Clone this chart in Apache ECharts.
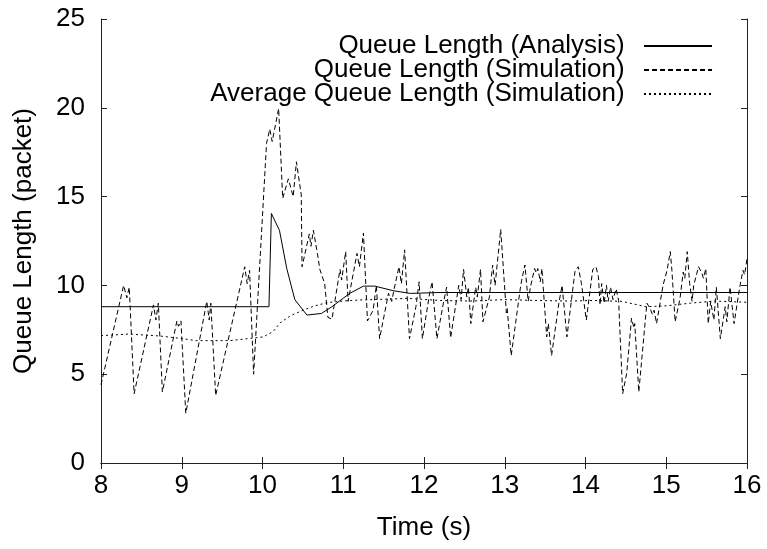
<!DOCTYPE html>
<html>
<head>
<meta charset="utf-8">
<script src="https://cdn.jsdelivr.net/npm/echarts@6/dist/echarts.min.js"></script>
<style>
  html, body { margin: 0; padding: 0; background: #fff; }
  #chart { width: 767px; height: 549px; }
</style>
</head>
<body>
<div id="chart"></div>
<script>
// Time axis ticks (s) and queue axis ticks (packets)
const xTicks = [8, 9, 10, 11, 12, 13, 14, 15, 16];
const yTicks = [0, 5, 10, 15, 20, 25];

// Analytical queue length
const anaTime = [8.00, 10.08, 10.11, 10.21, 10.30, 10.40, 10.55, 10.73, 10.86, 11.08, 11.25, 11.39, 11.62, 11.83, 12.20, 16.00];
const anaQueue = [8.8, 8.8, 14.05, 13.1, 10.96, 9.2, 8.33, 8.42, 8.8, 9.55, 9.96, 9.96, 9.7, 9.55, 9.6, 9.6];

// Simulated instantaneous queue length
const simTime = [
  8.00, 8.28, 8.32, 8.35, 8.41, 8.65, 8.68, 8.71, 8.76, 8.94, 8.96, 8.99, 9.05,
  9.31, 9.34, 9.36, 9.42, 9.78, 9.81, 9.84, 9.89, 10.05, 10.09, 10.12, 10.20,
  10.25, 10.32, 10.38, 10.42, 10.48, 10.49, 10.58, 10.60, 10.63, 10.68, 10.71,
  10.77, 10.81, 10.86, 10.96, 10.98, 11.03, 11.06, 11.17, 11.20, 11.25, 11.30,
  11.37, 11.41, 11.45, 11.56, 11.60, 11.63, 11.69, 11.72, 11.76, 11.82, 11.90,
  11.94, 11.98, 12.07, 12.10, 12.16, 12.24, 12.28, 12.33, 12.43, 12.46, 12.49,
  12.53, 12.55, 12.58, 12.64, 12.66, 12.70, 12.73, 12.81, 12.85, 12.88, 12.95,
  13.02, 13.03, 13.08, 13.19, 13.21, 13.25, 13.29, 13.32, 13.37, 13.39, 13.41,
  13.44, 13.46, 13.52, 13.54, 13.58, 13.67, 13.71, 13.77, 13.87, 13.91, 13.95,
  14.01, 14.09, 14.13, 14.16, 14.18, 14.20, 14.23, 14.26, 14.28, 14.31, 14.34,
  14.38, 14.41, 14.46, 14.51, 14.57, 14.60, 14.61, 14.66, 14.76, 14.80, 14.83,
  14.85, 14.88, 14.96, 15.01, 15.05, 15.07, 15.11, 15.17, 15.21, 15.23, 15.26,
  15.29, 15.32, 15.34, 15.40, 15.44, 15.46, 15.49, 15.52, 15.55, 15.59, 15.62,
  15.67, 15.73, 15.75, 15.79, 15.81, 15.84, 15.91, 15.95, 15.97, 16.00
];
const simQueue = [
  4.4, 10.0, 9.3, 9.9, 3.9, 8.9, 8.05, 9.0, 4.0, 8.0, 7.7, 8.0, 2.8,
  9.1, 8.05, 9.0, 3.8, 11.05, 10.1, 10.85, 5.0, 18.0, 18.8, 18.1, 19.96,
  14.9, 16.0, 15.0, 16.96, 15.1, 11.05, 12.9, 12.2, 13.1, 11.8, 10.9,
  10.1, 8.2, 8.1, 10.9, 10.3, 11.9, 9.1, 11.8, 11.05, 12.95, 8.0,
  8.6, 10.0, 7.0, 9.55, 9.1, 9.8, 11.05, 10.1, 12.0, 7.0, 8.8,
  10.2, 7.0, 9.55, 10.2, 7.0, 9.0, 9.9, 7.05, 10.0, 9.2, 10.9,
  9.35, 9.9, 7.85, 9.9, 9.35, 10.9, 7.95, 9.35, 11.15, 10.0, 13.15,
  8.45, 8.7, 6.05, 9.75, 10.3, 11.15, 9.1, 9.95, 10.95, 10.7, 10.95,
  10.2, 10.95, 7.1, 7.85, 6.05, 9.0, 10.0, 7.1, 10.8, 11.05, 10.1,
  8.05, 10.9, 11.05, 10.5, 8.9, 10.1, 9.0, 10.0, 9.1, 9.9, 9.2,
  9.8, 9.15, 3.9, 5.05, 8.15, 7.6, 7.85, 4.0, 9.0, 8.7, 8.35,
  8.6, 7.85, 10.0, 10.85, 11.9, 10.85, 7.95, 9.25, 10.75, 10.4, 11.9,
  10.1, 9.1, 10.0, 11.05, 10.7, 10.4, 10.95, 7.85, 9.1, 8.05, 9.9,
  7.0, 8.8, 7.95, 9.9, 10.0, 7.85, 9.9, 10.85, 10.6, 11.5
];

// Simulated average queue length
const avgTime = [8.00, 8.35, 8.73, 8.98, 9.18, 9.60, 10.01, 10.13, 10.22, 10.35, 10.50, 10.65, 10.80, 11.00, 11.20, 11.50, 11.80, 12.20, 12.60, 13.00, 13.40, 13.80, 14.10, 14.45, 14.75, 15.00, 15.30, 15.60, 16.00];
const avgQueue = [7.17, 7.26, 7.15, 7.02, 6.89, 6.89, 7.1, 7.4, 7.9, 8.3, 8.6, 8.85, 9.03, 9.12, 9.18, 9.22, 9.27, 9.15, 9.12, 9.2, 9.15, 9.12, 9.15, 9.1, 8.8, 8.85, 9.0, 9.12, 9.05];

const seriesNames = [
  'Queue Length (Analysis)',
  'Queue Length (Simulation)',
  'Average Queue Length (Simulation)'
];

const pairs = (xs, ys) => xs.map((x, i) => [x, ys[i]]);

const FONT = 'Liberation Sans, Arial, Helvetica, sans-serif';
const FONT_SIZE = 26;
const FRAME = '#222';

const chart = echarts.init(document.getElementById('chart'), null, { renderer: 'canvas' });

const baseAxis = {
  axisLine: { show: true, lineStyle: { color: FRAME, width: 1 } },
  axisTick: { show: true, inside: true, length: 6, lineStyle: { color: FRAME, width: 1 } },
  splitLine: { show: false }
};

chart.setOption({
  animation: false,
  backgroundColor: '#fff',
  textStyle: { fontFamily: FONT, color: '#000' },
  grid: { left: 101, right: 20, top: 19, bottom: 86, containLabel: false },
  legend: {
    orient: 'vertical',
    align: 'right',
    right: 49,
    top: 28,
    itemWidth: 68,
    itemHeight: 14,
    itemGap: -2,
    selectedMode: false,
    formatter: name => name + '  ',
    itemStyle: { color: 'rgba(0,0,0,0)', borderColor: 'rgba(0,0,0,0)', borderWidth: 0 },
    textStyle: { fontFamily: FONT, fontSize: FONT_SIZE, color: '#000' },
    data: seriesNames
  },
  xAxis: [
    Object.assign({}, baseAxis, {
      type: 'value', min: xTicks[0], max: xTicks[xTicks.length - 1], interval: 1,
      name: 'Time (s)', nameLocation: 'middle', nameGap: 52,
      nameTextStyle: { fontFamily: FONT, fontSize: FONT_SIZE, color: '#000' },
      axisLabel: { fontFamily: FONT, fontSize: FONT_SIZE, color: '#000', margin: 10 }
    }),
    Object.assign({}, baseAxis, {
      type: 'value', position: 'top', min: xTicks[0], max: xTicks[xTicks.length - 1], interval: 1,
      axisLabel: { show: false }
    })
  ],
  yAxis: [
    Object.assign({}, baseAxis, {
      type: 'value', min: yTicks[0], max: yTicks[yTicks.length - 1], interval: 5,
      name: 'Queue Length (packet)', nameLocation: 'middle', nameGap: 64, nameRotate: 90,
      nameTextStyle: { fontFamily: FONT, fontSize: FONT_SIZE, color: '#000' },
      axisLabel: { fontFamily: FONT, fontSize: FONT_SIZE, color: '#000', margin: 16 }
    }),
    Object.assign({}, baseAxis, {
      type: 'value', position: 'right', min: yTicks[0], max: yTicks[yTicks.length - 1], interval: 5,
      axisLabel: { show: false }
    })
  ],
  series: [
    {
      name: seriesNames[0], type: 'line', xAxisIndex: 0, yAxisIndex: 0,
      data: pairs(anaTime, anaQueue), symbol: 'none', silent: true,
      lineStyle: { color: '#000', width: 1, type: 'solid' }, itemStyle: { color: '#000' }
    },
    {
      name: seriesNames[1], type: 'line', xAxisIndex: 0, yAxisIndex: 0,
      data: pairs(simTime, simQueue), symbol: 'none', silent: true,
      lineStyle: { color: '#000', width: 1, type: [5, 3] }, itemStyle: { color: '#000' }
    },
    {
      name: seriesNames[2], type: 'line', xAxisIndex: 0, yAxisIndex: 0,
      data: pairs(avgTime, avgQueue), symbol: 'none', silent: true,
      lineStyle: { color: '#000', width: 1, type: [2, 3] }, itemStyle: { color: '#000' }
    }
  ]
});
</script>
</body>
</html>
